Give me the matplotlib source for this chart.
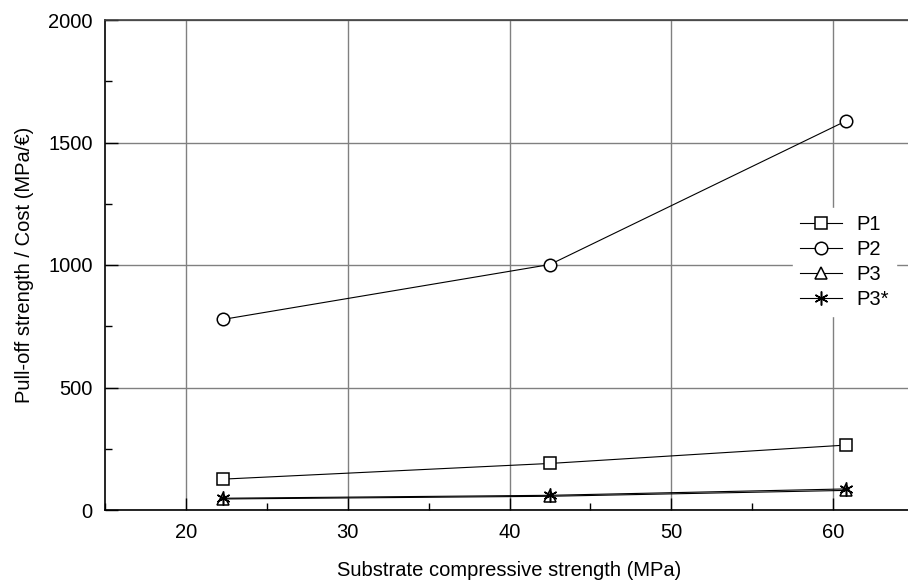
import numpy as np
import matplotlib
matplotlib.use('Agg')
import matplotlib.pyplot as plt
from matplotlib.ticker import MultipleLocator

plt.rcParams['font.family'] = ['Liberation Sans', 'DejaVu Sans']

strength = [22.3, 42.5, 60.8]
p1 = [126, 190, 265]
p2 = [778, 1002, 1588]
p3 = [45, 56, 80]
p3s = [48, 60, 86]

series = [
    ('P1', p1, 's'),
    ('P2', p2, 'o'),
    ('P3', p3, '^'),
    ('P3*', p3s, (6, 2, 0)),
]

fs = 14.5
fig = plt.figure(figsize=(9.08, 5.83), dpi=100)
ax = fig.add_axes([105 / 908, 73 / 583, 809 / 908, 490 / 583])

for name, vals, mk in series:
    ax.plot(strength, vals, color='black', lw=0.8, marker=mk, ms=9 if mk != (6, 2, 0) else 10,
            mfc='white', mec='black', mew=1.1, label=name)

ax.set_xlim(15, 65)
ax.set_ylim(0, 2000)
ax.xaxis.set_major_locator(MultipleLocator(10))
ax.xaxis.set_minor_locator(MultipleLocator(5))
ax.yaxis.set_major_locator(MultipleLocator(500))
ax.yaxis.set_minor_locator(MultipleLocator(250))
ax.tick_params(which='major', direction='in', length=9, width=1, labelsize=fs, pad=9)
ax.tick_params(which='minor', direction='in', length=5, width=1)
ax.tick_params(axis='x', which='both', top=False)
ax.tick_params(axis='y', which='both', right=False)
ax.grid(True, which='major', color='#808080', lw=1)
ax.set_axisbelow(True)
for s in ['left', 'bottom']:
    ax.spines[s].set_linewidth(1.2)
ax.spines['top'].set_color('#404040')
ax.spines['top'].set_linewidth(1.2)

ax.set_xlabel('Substrate compressive strength (MPa)', fontsize=fs, labelpad=14)
ax.set_ylabel('Pull-off strength / Cost (MPa/€)', fontsize=fs, labelpad=10)

leg = ax.legend(loc='upper left', bbox_to_anchor=(0.8505, 0.616), borderaxespad=0,
                frameon=True, fontsize=fs, handlelength=2.1, handletextpad=0.7,
                labelspacing=0.3, borderpad=0.35)
leg.get_frame().set_edgecolor('white')
leg.get_frame().set_facecolor('white')
leg.get_frame().set_alpha(1)
leg.get_frame().set_boxstyle('square', pad=0)

fig.savefig('out.png', dpi=100)
